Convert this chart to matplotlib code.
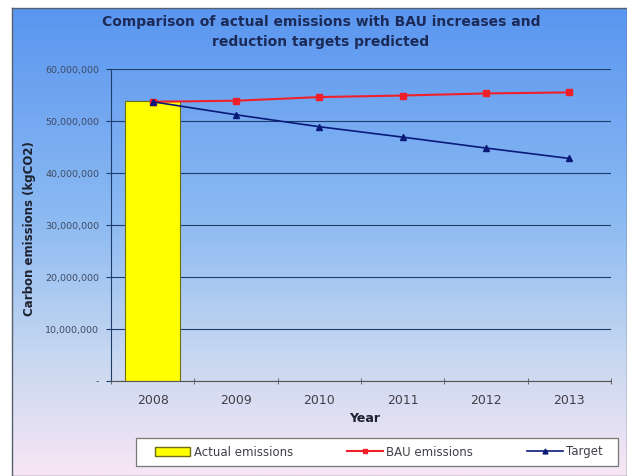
import numpy as np
import matplotlib
matplotlib.use("Agg")
import matplotlib.pyplot as plt
from matplotlib.patches import Patch, Rectangle
from matplotlib.lines import Line2D
from matplotlib.ticker import FuncFormatter, MultipleLocator

# chart data (kgCO2)
years = ["2008", "2009", "2010", "2011", "2012", "2013"]
actual = [53_800_000]
bau = [53_700_000, 53_900_000, 54_600_000, 54_900_000, 55_300_000, 55_500_000]
target = [53_700_000, 51_200_000, 48_900_000, 46_900_000, 44_800_000, 42_800_000]

W, H = 627, 476
fig = plt.figure(figsize=(W / 100, H / 100), dpi=100)
fig.patch.set_facecolor("white")


def fx(px):
    return px / W


def fy(py):
    return 1 - py / H


# gradient chart area, blue at top fading to pale pink
bg = fig.add_axes([fx(12), 0, 1 - fx(12), fy(8)], zorder=0)
stops = [(0.0, (90, 150, 240)), (0.45, (140, 186, 242)),
         (0.75, (200, 216, 240)), (1.0, (248, 230, 245))]
t = np.linspace(0, 1, 256)
grad = np.stack([np.interp(t, [s[0] for s in stops], [s[1][c] for s in stops])
                 for c in range(3)], axis=-1) / 255.0
bg.imshow(grad[:, None, :], aspect="auto", extent=[0, 1, 0, 1])
bg.set_xticks([])
bg.set_yticks([])
for side in bg.spines.values():
    side.set_color("#55606e")
    side.set_linewidth(1.0)

ax = fig.add_axes([fx(111), fy(381), fx(611) - fx(111), (381 - 69) / H], zorder=1)
ax.set_facecolor("none")

x = np.arange(len(years))
ax.bar(x[:len(actual)], actual, width=0.66, color="#ffff00",
       edgecolor="#6e6e10", linewidth=0.8, zorder=2)
ax.plot(x, bau, color="#f0202a", lw=1.5, marker="s", ms=4.5, zorder=3)
ax.plot(x, target, color="#0a1a78", lw=1.2, marker="^", ms=5, zorder=4)

ax.set_xlim(-0.5, len(years) - 0.5)
ax.set_ylim(0, 60_000_000)
ax.yaxis.set_major_locator(MultipleLocator(10_000_000))
ax.yaxis.set_major_formatter(FuncFormatter(lambda v, p: "-" if v == 0 else "{:,.0f}".format(v)))
ax.grid(axis="y", color="#1f3d6b", lw=0.8)
ax.set_axisbelow(True)

ax.set_xticks(x)
ax.set_xticklabels(years)
ax.set_xticks(np.arange(-0.5, len(years)), minor=True)
ax.tick_params(axis="x", which="major", length=0, pad=9, labelsize=9, labelcolor="#404048")
ax.tick_params(axis="x", which="minor", length=4, direction="inout", color="#555555")
ax.tick_params(axis="y", length=3.5, pad=5, labelsize=6.8, labelcolor="#3e4a64", color="#1f3d6b")

for side in ("top", "right"):
    ax.spines[side].set_visible(False)
ax.spines["left"].set_color("#1f3d6b")
ax.spines["bottom"].set_color("#555555")

fig.text(fx(321), fy(22), "Comparison of actual emissions with BAU increases and",
         ha="center", va="center", fontsize=10, fontweight="bold", color="#1c2a58")
fig.text(fx(321), fy(42), "reduction targets predicted",
         ha="center", va="center", fontsize=10, fontweight="bold", color="#1c2a58")
fig.text(fx(29), fy(229), "Carbon emissions (kgCO2)", rotation=90,
         ha="center", va="center", fontsize=8.5, fontweight="bold", color="#1e2230")
fig.text(fx(365), fy(418), "Year", ha="center", va="center",
         fontsize=9, fontweight="bold", color="#1e2230")

# legend frame drawn separately so the entries can sit inset from it
fig.patches.append(Rectangle((fx(136), fy(466)), fx(618) - fx(136), (466 - 438) / H,
                             transform=fig.transFigure, facecolor="white",
                             edgecolor="#777777", lw=0.9, zorder=2))
handles = [
    Patch(facecolor="#ffff00", edgecolor="#6e6e10"),
    Line2D([], [], color="#f0202a", lw=1.5, marker="s", ms=3),
    Line2D([], [], color="#0a1a78", lw=1.2, marker="^", ms=3.5),
]
leg = fig.legend(handles, ["Actual emissions", "BAU emissions", "Target"],
                 loc="center", ncol=3, mode="expand",
                 bbox_to_anchor=(fx(149), fy(466), fx(609) - fx(149), (466 - 438) / H),
                 borderaxespad=0, frameon=False,
                 fontsize=8.5, handlelength=3, handletextpad=0.3, borderpad=0.5)
leg.set_zorder(3)
for txt in leg.get_texts():
    txt.set_color("#404048")

fig.savefig("out.png", dpi=100)
